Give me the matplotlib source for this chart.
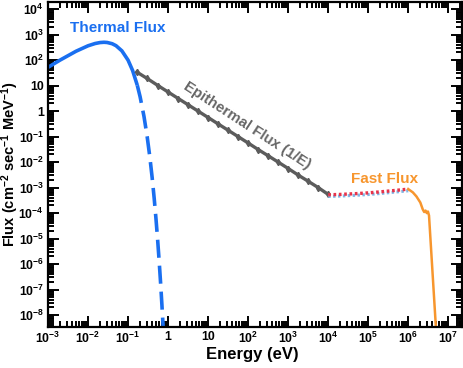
import matplotlib
matplotlib.use("Agg")
import matplotlib.pyplot as plt
import matplotlib.transforms as mtransforms
from matplotlib.ticker import FixedLocator, FixedFormatter, LogLocator, NullFormatter

plt.rcParams['font.family'] = ['Liberation Sans', 'DejaVu Sans']
plt.rcParams['font.weight'] = 'bold'
plt.rcParams['mathtext.fontset'] = 'custom'
plt.rcParams['mathtext.rm'] = 'Liberation Sans:bold'
plt.rcParams['mathtext.bf'] = 'Liberation Sans:bold'
plt.rcParams['mathtext.it'] = 'Liberation Sans:bold'
plt.rcParams['mathtext.default'] = 'bf'

# ---- data ----
thermal_E = [1e-3, 2e-3, 5e-3, 1e-2, 1.5e-2, 2e-2, 2.5e-2, 3e-2, 4e-2, 5e-2, 7e-2, 0.1, 0.13, 0.17]
thermal_flux = [52, 100, 222, 364, 447, 488, 500, 491, 439, 368, 231, 99.5, 39, 10.3]

thermal_tail_E = [0.17, 0.2, 0.25, 0.3, 0.35, 0.4, 0.45, 0.5, 0.55, 0.6, 0.65, 0.7, 0.75, 0.8]
thermal_tail_flux = [10.3, 3.64, 0.617, 0.100, 0.0158, 2.45e-3, 3.72e-4, 5.6e-5, 8.3e-6,
                     1.23e-6, 1.8e-7, 2.6e-8, 3.8e-9, 5.5e-10]

epi_E = [0.166, 0.3, 0.56, 1, 1.8, 3.2, 5.6, 10, 18, 32, 56, 100, 178, 316, 562,
         1000, 1778, 3162, 5623, 10000]
epi_flux = [34, 19, 10, 5.6, 3.1, 1.75, 1.0, 0.56, 0.31, 0.175, 0.10, 0.056, 0.031,
            0.0177, 0.0100, 5.6e-3, 3.1e-3, 1.77e-3, 1.0e-3, 5.4e-4]

fast_mid_E = [1e4, 2e4, 5e4, 1e5, 2e5, 5e5, 1e6]
fast_mid_flux = [5.2e-4, 5.4e-4, 5.8e-4, 6.2e-4, 6.8e-4, 7.8e-4, 8.7e-4]

fast_E = [1.0e6, 1.3e6, 1.6e6, 2.0e6, 2.3e6, 2.5e6, 2.7e6, 2.9e6, 3.1e6, 3.3e6, 5.0e6]
fast_flux = [8.7e-4, 6.5e-4, 4.5e-4, 2.6e-4, 1.4e-4, 1.1e-4, 1.25e-4, 1.0e-4, 1.15e-4, 8e-5, 2e-9]

x_ticks = [1e-3, 1e-2, 1e-1, 1, 10, 1e2, 1e3, 1e4, 1e5, 1e6, 1e7]
x_labels = [r'$10^{-3}$', r'$10^{-2}$', r'$10^{-1}$', '1', '10', r'$10^{2}$', r'$10^{3}$',
            r'$10^{4}$', r'$10^{5}$', r'$10^{6}$', r'$10^{7}$']
y_ticks = [1e-8, 1e-7, 1e-6, 1e-5, 1e-4, 1e-3, 1e-2, 1e-1, 1, 10, 1e2, 1e3, 1e4]
y_labels = [r'$10^{-8}$', r'$10^{-7}$', r'$10^{-6}$', r'$10^{-5}$', r'$10^{-4}$', r'$10^{-3}$',
            r'$10^{-2}$', r'$10^{-1}$', '1', '10', r'$10^{2}$', r'$10^{3}$', r'$10^{4}$']

blue = '#1a6ff0'
orange = '#f7962e'
gray = '#5c5c5c'

W, H = 463, 368
fig = plt.figure(figsize=(W / 100, H / 100), dpi=100)
ax = fig.add_axes([48 / W, 1 - 327 / H, (462 - 48) / W, (327 - 2) / H])
ax.set_xscale('log')
ax.set_yscale('log')
ax.set_xlim(1e-3, 2.2e7)
ax.set_ylim(3.4e-9, 1.9e4)

ax.plot(thermal_E, thermal_flux, color=blue, lw=2.6, solid_capstyle='butt')
ax.plot(thermal_tail_E, thermal_tail_flux, color=blue, lw=2.6, dashes=(5, 2.2))

ax.plot(epi_E, epi_flux, color=gray, lw=2.4, marker='d', ms=3.2, mec=gray, mfc=gray)

off = mtransforms.offset_copy(ax.transData, fig=fig, x=0, y=-1.2, units='points')
ax.plot(fast_mid_E, fast_mid_flux, color='#7fb6e6', lw=2.2, ls=(0, (0.8, 0.8)), transform=off)
ax.plot(fast_mid_E, fast_mid_flux, color='#e8334a', lw=2.4, ls=(0, (0.8, 0.8)))

ax.plot(fast_E, fast_flux, color=orange, lw=1.8)

fig.text(70 / W, 1 - 28 / H, 'Thermal Flux', fontsize=11, color=blue, fontweight='bold',
         ha='left', va='center')
ax.text(94, 0.28, 'Epithermal Flux (1/E)', fontsize=10.8, color='#666666', fontweight='bold',
        rotation=-33, rotation_mode='anchor', ha='center', va='center')
ax.text(2.5e5, 2.1e-3, 'Fast Flux', fontsize=11, color=orange, fontweight='bold',
        ha='center', va='center')

ax.xaxis.set_major_locator(FixedLocator(x_ticks))
ax.xaxis.set_major_formatter(FixedFormatter(x_labels))
ax.yaxis.set_major_locator(FixedLocator(y_ticks))
ax.yaxis.set_major_formatter(FixedFormatter(y_labels))
ax.xaxis.set_minor_locator(LogLocator(base=10, subs=range(2, 10), numticks=30))
ax.yaxis.set_minor_locator(LogLocator(base=10, subs=range(2, 10), numticks=30))
ax.xaxis.set_minor_formatter(NullFormatter())
ax.yaxis.set_minor_formatter(NullFormatter())

ax.tick_params(which='both', direction='in', top=True, right=True, width=1.4)
ax.tick_params(which='major', length=8, labelsize=8.8, pad=3)
ax.tick_params(which='minor', length=4.5)
for s in ax.spines.values():
    s.set_linewidth(1.6)

ax.set_xlabel('Energy (eV)', fontsize=12, fontweight='bold')
ax.set_ylabel(r'Flux (cm$^{-2}$ sec$^{-1}$ MeV$^{-1}$)', fontsize=10.5, fontweight='bold')
ax.xaxis.set_label_coords((252 - 48) / (462 - 48), -(355 - 327) / (327 - 2))
ax.yaxis.set_label_coords(-(48 - 10) / (462 - 48), 0.5)
ax.xaxis.label.set_va('center')
ax.yaxis.label.set_va('center')

fig.savefig('out.png', dpi=100)
